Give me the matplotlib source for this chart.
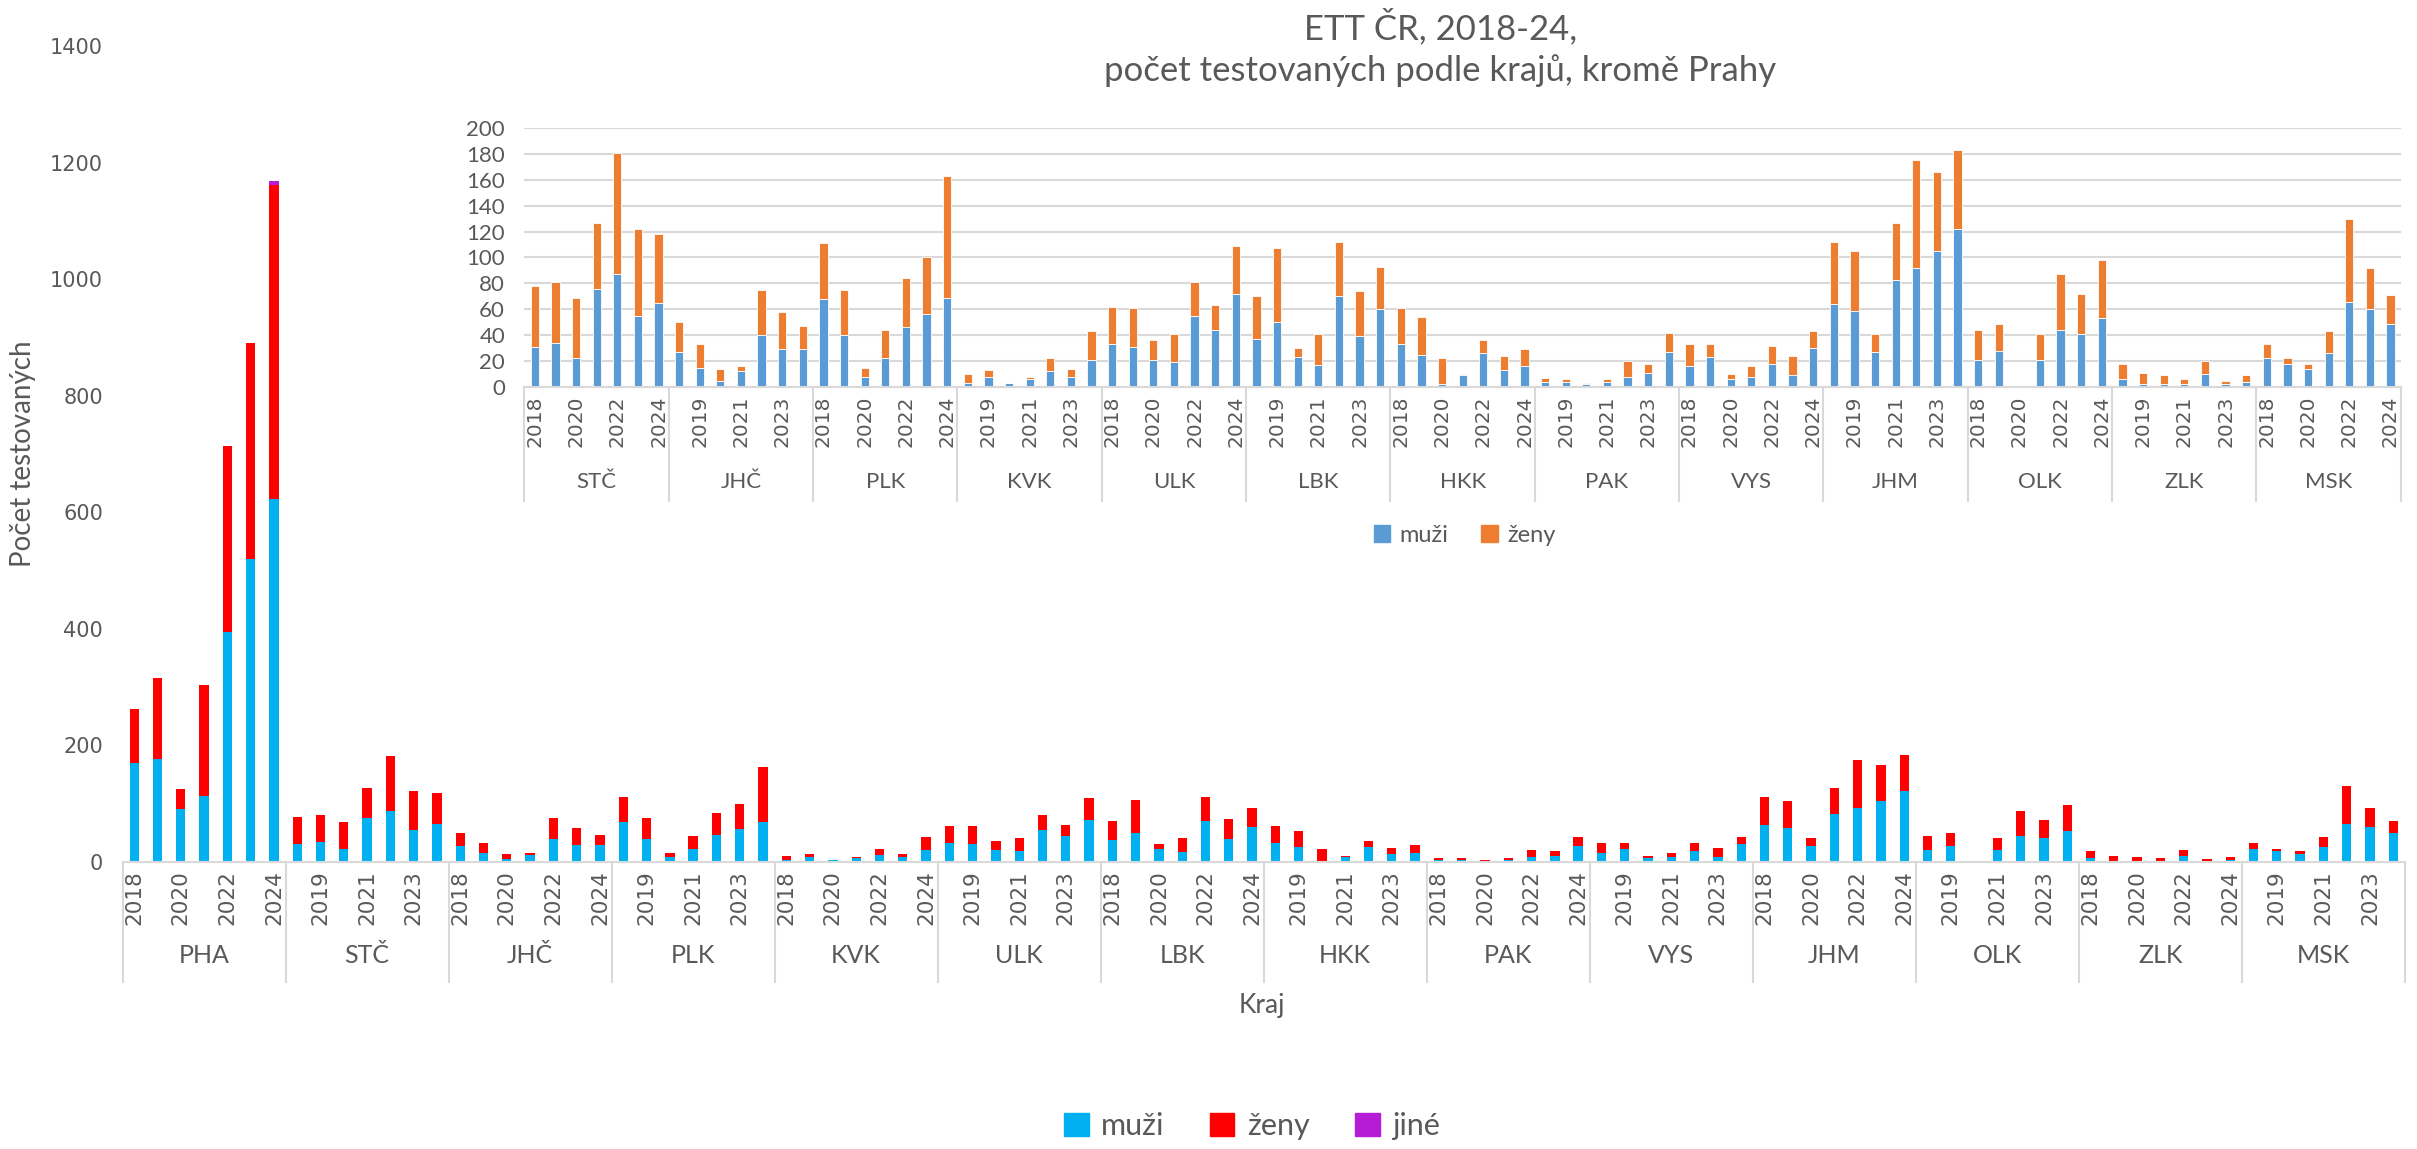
import matplotlib
matplotlib.use("Agg")
import matplotlib.pyplot as plt
import matplotlib.transforms as mtransforms
from matplotlib.patches import Patch
import numpy as np

# kraje a roky
kraje = ["PHA", "STČ", "JHČ", "PLK", "KVK", "ULK", "LBK", "HKK",
         "PAK", "VYS", "JHM", "OLK", "ZLK", "MSK"]
roky = ["2018", "2019", "2020", "2021", "2022", "2023", "2024"]

# muži za kraj (2018..2024)
muzi = [
    [170, 176, 91, 114, 394, 520, 622],
    [31, 34, 22, 76, 87, 55, 65],
    [27, 15, 5, 12, 40, 29, 29],
    [68, 40, 8, 22, 46, 56, 69],
    [3, 8, 3, 6, 12, 8, 21],
    [33, 31, 21, 19, 55, 44, 72],
    [37, 50, 23, 17, 70, 39, 60],
    [33, 25, 2, 9, 26, 13, 16],
    [4, 4, 2, 4, 8, 11, 27],
    [16, 23, 6, 8, 18, 9, 30],
    [64, 59, 27, 83, 92, 105, 122],
    [21, 28, 0, 21, 44, 41, 53],
    [6, 2, 2, 2, 10, 2, 4],
    [22, 18, 14, 26, 66, 60, 49],
]
# ženy
zeny = [
    [93, 139, 34, 190, 319, 371, 540],
    [47, 47, 47, 51, 94, 67, 53],
    [23, 18, 9, 4, 35, 29, 18],
    [43, 35, 7, 22, 38, 44, 94],
    [7, 5, 0, 2, 10, 6, 22],
    [29, 30, 15, 22, 26, 19, 37],
    [33, 57, 7, 24, 42, 35, 33],
    [28, 29, 20, 1, 10, 11, 13],
    [3, 2, 1, 2, 12, 7, 15],
    [17, 10, 4, 8, 14, 15, 13],
    [48, 46, 14, 44, 83, 61, 61],
    [23, 21, 0, 20, 43, 31, 45],
    [12, 9, 7, 4, 10, 3, 5],
    [11, 4, 4, 17, 64, 32, 22],
]
# jiné
jine = [
    [0, 0, 0, 0, 0, 0, 7],
] + [[0] * 7 for _ in range(13)]

SEDA = "#595959"
LINKA = "#D9D9D9"

def osa_kraju(ax, skupiny, sep_dolu, lab_y, fs_rok, fs_kraj):
    n = len(skupiny) * 7
    x = np.arange(n)
    labels = [roky[i % 7] if i % 2 == 0 else "" for i in range(n)]
    ax.set_xticks(x)
    ax.set_xticklabels(labels, rotation=90, fontsize=fs_rok, color=SEDA,
                       family="DejaVu Sans")
    ax.tick_params(axis="x", length=0, pad=6)
    trans = mtransforms.blended_transform_factory(ax.transData, ax.transAxes)
    for k in range(len(skupiny) + 1):
        ax.plot([k * 7 - 0.5, k * 7 - 0.5], [0, sep_dolu], transform=trans,
                color=LINKA, lw=1.5, clip_on=False)
    for k, nazev in enumerate(skupiny):
        ax.text(k * 7 + 3, lab_y, nazev, transform=trans, ha="center",
                va="center", fontsize=fs_kraj, color=SEDA, family="Lato")
    ax.set_xlim(-0.5, n - 0.5)

fig = plt.figure(figsize=(24.17, 11.49), dpi=100)

# hlavní graf
ax = fig.add_axes([0.0507, 0.2498, 0.9443, 0.7102])
m = np.array(muzi).ravel()
z = np.array(zeny).ravel()
j = np.array(jine).ravel()
x = np.arange(len(m))
w = 0.4
ax.bar(x, m, w, color="#00B0F0")
ax.bar(x, z, w, bottom=m, color="#FF0000")
ax.bar(x, j, w, bottom=m + z, color="#B51CD6")
ax.set_ylim(0, 1400)
ax.set_yticks(range(0, 1401, 200))
ax.tick_params(axis="y", length=0, pad=14, labelsize=15, labelcolor=SEDA)
for s in ["top", "right", "left"]:
    ax.spines[s].set_visible(False)
ax.spines["bottom"].set_color(LINKA)
ax.spines["bottom"].set_linewidth(1.5)
osa_kraju(ax, kraje, -0.147, -0.115, 15.5, 18)
ax.set_ylabel("Počet testovaných", fontsize=20, color=SEDA, family="Lato",
              labelpad=10)
fig.text(0.522, 1 - 1005 / 1149, "Kraj", ha="center", va="center",
         fontsize=19, color=SEDA, family="Lato")

# vložený graf bez Prahy
ins = fig.add_axes([0.217, 0.6632, 0.7763, 0.2254])
ins.set_facecolor("white")
m2 = np.array(muzi[1:]).ravel()
z2 = np.array(zeny[1:]).ravel()
x2 = np.arange(len(m2))
ins.bar(x2, m2, w, color="#5B9BD5", edgecolor="white", linewidth=0.6)
ins.bar(x2, z2, w, bottom=m2, color="#ED7D31", edgecolor="white", linewidth=0.6)
ins.set_ylim(0, 200)
ins.set_yticks(range(0, 201, 20))
ins.yaxis.grid(True, color=LINKA, lw=1.5)
ins.set_axisbelow(True)
ins.tick_params(axis="y", length=0, pad=14, labelsize=16, labelcolor=SEDA)
for t in ins.get_yticklabels():
    t.set_family("Lato")
for s in ["top", "right", "left"]:
    ins.spines[s].set_visible(False)
ins.spines["bottom"].set_color(LINKA)
ins.spines["bottom"].set_linewidth(1.5)
osa_kraju(ins, kraje[1:], -0.44, -0.367, 14.5, 16)
ins.legend(handles=[Patch(color="#5B9BD5", label="muži"),
                    Patch(color="#ED7D31", label="ženy")],
           loc="center", bbox_to_anchor=(0.606, 1 - 535 / 1149),
           bbox_transform=fig.transFigure, ncol=2, frameon=False,
           labelcolor=SEDA, handlelength=0.7, handleheight=0.7,
           columnspacing=1.4, handletextpad=0.4, prop={"family": "Lato", "size": 17})

fig.text(0.596, 1 - 8 / 1149, "ETT ČR, 2018-24,\npočet testovaných podle krajů, kromě Prahy",
         ha="center", va="top", fontsize=25, color=SEDA, family="Lato",
         linespacing=1.35)

fig.legend(handles=[Patch(color="#00B0F0", label="muži"),
                    Patch(color="#FF0000", label="ženy"),
                    Patch(color="#B51CD6", label="jiné")],
           loc="center", bbox_to_anchor=(0.518, 0.02), ncol=3, frameon=False,
           labelcolor=SEDA, handlelength=0.8, handleheight=0.8,
           columnspacing=1.5, handletextpad=0.4, prop={"family": "Lato", "size": 22})

fig.savefig("out.png", dpi=100, facecolor="white")
